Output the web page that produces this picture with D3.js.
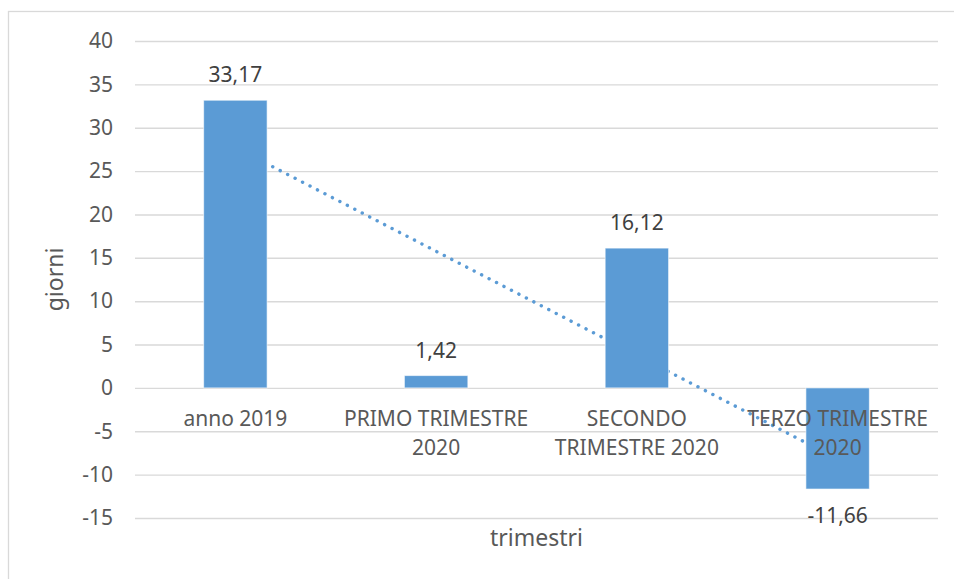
<!DOCTYPE html>
<html>
<head>
<meta charset="utf-8">
<script src="https://cdn.jsdelivr.net/npm/d3@7"></script>
<style>
  body { margin: 0; background: #fff; }
  svg text { font-family: "Noto Sans", sans-serif; }
</style>
</head>
<body>
<div id="chart"></div>
<script>
const WIDTH = 954;
const HEIGHT = 579;

// chart data
const categories = ["anno 2019", "PRIMO TRIMESTRE 2020", "SECONDO TRIMESTRE 2020", "TERZO TRIMESTRE 2020"];
const categoryLines = [
  ["anno 2019"],
  ["PRIMO TRIMESTRE", "2020"],
  ["SECONDO", "TRIMESTRE 2020"],
  ["TERZO TRIMESTRE", "2020"]
];
const values = [33.17, 1.42, 16.12, -11.66];
const valueLabels = ["33,17", "1,42", "16,12", "-11,66"];
const yTicks = [-15, -10, -5, 0, 5, 10, 15, 20, 25, 30, 35, 40];

const margin = { top: 41, right: 16, bottom: 61, left: 135 };
const plotW = WIDTH - margin.left - margin.right;
const plotH = HEIGHT - margin.top - margin.bottom;

const svg = d3.select("#chart")
  .append("svg")
  .attr("width", WIDTH)
  .attr("height", HEIGHT);

// outer chart border
svg.append("rect")
  .attr("x", 8.5)
  .attr("y", 11.5)
  .attr("width", WIDTH + 10)
  .attr("height", HEIGHT + 10)
  .attr("fill", "none")
  .attr("stroke", "#d9d9d9")
  .attr("stroke-width", 1.3);

const g = svg.append("g")
  .attr("transform", `translate(${margin.left},${margin.top})`);

const x = d3.scaleBand()
  .domain(categories)
  .range([0, plotW]);

const y = d3.scaleLinear()
  .domain([-15, 40])
  .range([plotH, 0]);

// Y axis with gridlines
const yAxis = g.append("g")
  .call(d3.axisLeft(y)
    .tickValues(yTicks)
    .tickSize(-plotW)
    .tickPadding(22)
    .tickFormat(d => String(d)));
yAxis.select(".domain").remove();
yAxis.selectAll(".tick line")
  .attr("stroke", "#d9d9d9")
  .attr("stroke-width", 1.4);
yAxis.selectAll(".tick text")
  .attr("fill", "#595959")
  .style("font-size", "21px")
  .style("font-family", "'Noto Sans', sans-serif");

// linear trendline (least squares over category index)
const n = values.length;
const xs = values.map((d, i) => i + 1);
const mx = d3.mean(xs), my = d3.mean(values);
const slope = d3.sum(xs.map((xi, i) => (xi - mx) * (values[i] - my))) / d3.sum(xs.map(xi => (xi - mx) ** 2));
const intercept = my - slope * mx;
const trend = [1, n].map(k => ({ cat: categories[k - 1], v: intercept + slope * k }));

g.append("path")
  .datum(trend)
  .attr("d", d3.line()
    .x(d => x(d.cat) + x.bandwidth() / 2)
    .y(d => y(d.v)))
  .attr("fill", "none")
  .attr("stroke", "#5b9bd5")
  .attr("stroke-width", 3.4)
  .attr("stroke-linecap", "round")
  .attr("stroke-dasharray", "0.1 8.3");

// bars
const barW = x.bandwidth() * 0.316;
g.selectAll(".bar")
  .data(values)
  .enter()
  .append("rect")
  .attr("x", (d, i) => x(categories[i]) + x.bandwidth() / 2 - barW / 2)
  .attr("y", d => y(Math.max(0, d)))
  .attr("width", barW)
  .attr("height", d => Math.abs(y(d) - y(0)))
  .attr("fill", "#5b9bd5")
  .attr("stroke", "#ffffff")
  .attr("stroke-opacity", 0.6)
  .attr("stroke-width", 1);

// value labels
g.selectAll(".vlabel")
  .data(values)
  .enter()
  .append("text")
  .attr("x", (d, i) => x(categories[i]) + x.bandwidth() / 2)
  .attr("y", d => d >= 0 ? y(d) - 18 : y(d) + 34)
  .attr("text-anchor", "middle")
  .attr("fill", "#404040")
  .style("font-size", "21px")
  .text((d, i) => valueLabels[i]);

// category labels
const catG = g.selectAll(".cat")
  .data(categoryLines)
  .enter()
  .append("text")
  .attr("text-anchor", "middle")
  .attr("fill", "#595959")
  .style("font-size", "21px");
catG.selectAll("tspan")
  .data((d, i) => d.map(t => ({ t, i })))
  .enter()
  .append("tspan")
  .attr("x", d => x(categories[d.i]) + x.bandwidth() / 2)
  .attr("y", (d, j) => y(0) + 38 + j * 29)
  .text(d => d.t);

// axis titles
svg.append("text")
  .attr("transform", `translate(63, ${margin.top + plotH / 2}) rotate(-90)`)
  .attr("text-anchor", "middle")
  .attr("fill", "#595959")
  .style("font-size", "23px")
  .text("giorni");

svg.append("text")
  .attr("x", margin.left + plotW / 2)
  .attr("y", 546)
  .attr("text-anchor", "middle")
  .attr("fill", "#595959")
  .style("font-size", "23px")
  .text("trimestri");
</script>
</body>
</html>
